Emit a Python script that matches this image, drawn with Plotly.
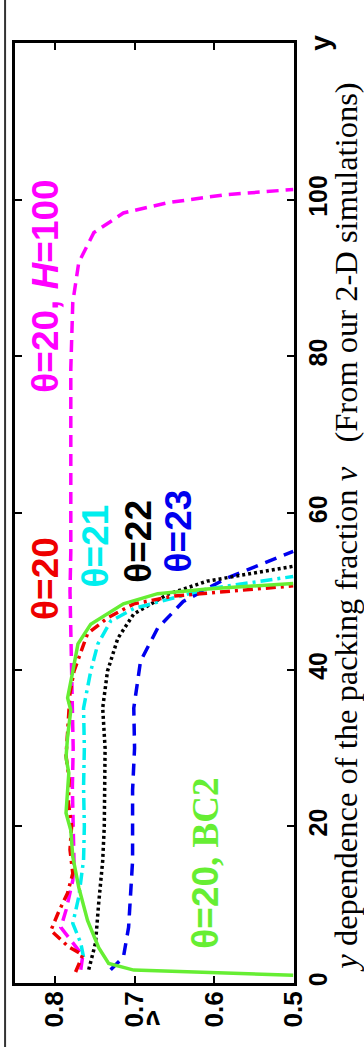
import plotly.graph_objects as go

# ---- data (y position, packing fraction nu) ----
green_y  = [1.0, 1.5, 1.65, 2.5, 4.5, 8.0, 12.2, 16.1, 19.5, 21.7, 24.0, 26.8, 28.8, 31.5, 34.8, 36.4, 39.8, 43.3, 45.8, 48.4, 49.7, 50.3, 51.0]
green_nu = [0.501, 0.6425, 0.701, 0.7325, 0.745, 0.759, 0.770, 0.7775, 0.780, 0.786, 0.784, 0.7825, 0.786, 0.784, 0.780, 0.784, 0.7775, 0.771, 0.755, 0.714, 0.671, 0.609, 0.501]

red_y  = [1.4, 3.6, 4.6, 6.7, 8.9, 11.5, 14.0, 17.0, 20.0, 23.0, 26.0, 29.0, 32.0, 35.0, 37.0, 39.8, 44.6, 46.6, 48.4, 49.4, 50.7]
red_nu = [0.774, 0.765, 0.7825, 0.805, 0.796, 0.784, 0.7775, 0.781, 0.779, 0.783, 0.782, 0.786, 0.784, 0.782, 0.781, 0.776, 0.759, 0.734, 0.701, 0.651, 0.501]

mag_y  = [1.7, 3.5, 7.1, 9.3, 13.1, 15.6, 20, 25, 30, 35, 40, 45, 50, 55, 60, 65, 70, 78.4, 86.9, 92.0, 95.8, 98.3, 99.6, 100.6, 101.3]
mag_nu = [0.7675, 0.765, 0.7925, 0.786, 0.7775, 0.776, 0.777, 0.778, 0.777, 0.778, 0.780, 0.781, 0.781, 0.780, 0.780, 0.780, 0.781, 0.780, 0.7775, 0.770, 0.751, 0.714, 0.659, 0.589, 0.501]

cyan_y  = [3.3, 5.1, 7.6, 11.0, 15.7, 20, 25, 30, 35.1, 39.8, 43.3, 46.2, 47.8, 49.2, 50.3, 51.9]
cyan_nu = [0.764, 0.7675, 0.7775, 0.770, 0.764, 0.763, 0.764, 0.763, 0.764, 0.755, 0.746, 0.730, 0.701, 0.651, 0.609, 0.501]

black_y  = [1.7, 5.1, 10.2, 15.6, 20, 25, 30, 35.1, 39.8, 44.0, 47.1, 49.6, 51.3, 53.2]
black_nu = [0.7575, 0.749, 0.745, 0.740, 0.738, 0.737, 0.737, 0.740, 0.734, 0.721, 0.701, 0.659, 0.609, 0.501]

blue_y  = [1.7, 3.3, 7.1, 15.6, 24.6, 30, 35.1, 41.1, 45.3, 48.7, 51.7, 53.8, 55.1]
blue_nu = [0.730, 0.714, 0.7075, 0.7025, 0.7025, 0.700, 0.701, 0.6925, 0.671, 0.639, 0.584, 0.534, 0.501]

nu_ticks = [0.5, 0.6, 0.7, 0.8]
nu_tick_labels = ["0.5", "0.6", "0.7", "0.8"]
y_ticks = [0, 20, 40, 60, 80, 100]
y_tick_labels = ["0", "20", "40", "60", "80", "100"]

fig = go.Figure()

def add(nu, y, color, dash, width=3.5):
    fig.add_trace(go.Scatter(x=nu, y=y, mode="lines",
                             line=dict(color=color, dash=dash, width=width),
                             showlegend=False, hoverinfo="skip"))

add(mag_nu, mag_y, "#ff00ff", "12px,7px")
add(blue_nu, blue_y, "#0000ee", "12px,8px")
add(black_nu, black_y, "black", "3px,3px", 3.5)
add(cyan_nu, cyan_y, "#00eeee", "12px,5px,3px,5px")
add(red_nu, red_y, "#ee0000", "10px,5px,3px,5px")
add(green_nu, green_y, "#66ee33", "solid", 3.5)

sans = "Liberation Sans, Arial, sans-serif"
serif = "Liberation Serif, Times New Roman, serif"

def label(text, nu, y, color, size=37, family=sans):
    fig.add_annotation(x=nu, y=y, xref="x", yref="y", text=text, showarrow=False,
                       xanchor="center", yanchor="middle",
                       textangle=-90, font=dict(family=family, size=size, color=color, weight="bold"))

label("θ=20", 0.811, 51.6, "#ee0000")
label("θ=21", 0.749, 55.8, "#00eeee")
label("θ=22", 0.695, 56.4, "black")
label("θ=23", 0.645, 57.7, "#0000ee")
label("θ=20, <i>H</i>=100", 0.811, 88.9, "#ff00ff")
label("θ=20<span style='font-family:Liberation Serif'>, BC2</span>", 0.611, 15.3, "#66ee33")

# axis-end labels
fig.add_annotation(x=(320-13)/281, y=(983-43)/940, xref="paper", yref="paper", text="y", showarrow=False,
                   xanchor="center", yanchor="middle",
                   textangle=-90, font=dict(family=sans, size=28, color="black", weight="bold"))
fig.add_annotation(x=(152-13)/281, y=(983-1020)/940, xref="paper", yref="paper", text="ν", showarrow=False,
                   xanchor="center", yanchor="middle",
                   textangle=180, font=dict(family=sans, size=26, color="black", weight="bold"))

# caption
fig.add_annotation(x=(346-13)/281, y=(983-527)/940, xref="paper", yref="paper",
                   xanchor="center", yanchor="middle",
                   text="<i>y</i> dependence of the packing fraction <i>ν</i>\u00a0\u00a0\u00a0(From our 2-D simulations)",
                   showarrow=False, textangle=-90,
                   font=dict(family=serif, size=32.5, color="black"))

# outer border line on the left
fig.add_shape(type="line", xref="paper", yref="paper",
              x0=(3-13)/281, x1=(3-13)/281, y0=(983-1047)/940, y1=(983-0)/940,
              line=dict(color="#333333", width=2))

fig.update_xaxes(range=[0.85, 0.5], tickvals=nu_ticks, ticktext=nu_tick_labels,
                 tickangle=-90, ticks="inside", ticklen=7, tickwidth=2, tickcolor="black",
                 showline=True, linewidth=3, linecolor="black", mirror="ticks",
                 showgrid=False, zeroline=False, ticklabelstandoff=-5,
                 tickfont=dict(family=sans, size=26, color="black", weight="bold"))
fig.update_yaxes(range=[0, 120], tickvals=y_ticks, ticktext=y_tick_labels, side="right",
                 tickangle=-90, ticks="inside", ticklen=7, tickwidth=2, tickcolor="black",
                 showline=True, linewidth=3, linecolor="black", mirror="ticks",
                 showgrid=False, zeroline=False,
                 tickfont=dict(family=sans, size=25, color="black", weight="bold"))

fig.update_layout(width=364, height=1055, margin=dict(l=13, r=70, t=43, b=72),
                  paper_bgcolor="white", plot_bgcolor="white")

fig.write_html("out.html")
